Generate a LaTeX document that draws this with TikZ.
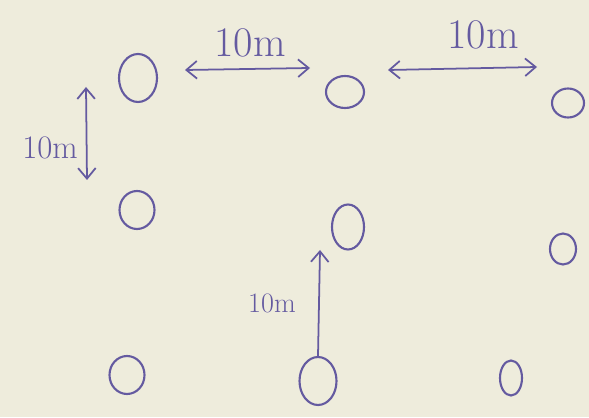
\documentclass[tikz,border=0pt]{standalone}
\usepackage{xcolor}
\usetikzlibrary{positioning, arrows.meta, shapes.geometric}
\definecolor{ink}{RGB}{100,90,160}
\definecolor{paper}{RGB}{238,236,220}
\tikzset{
  post/.style 2 args={draw=ink, ellipse, line width=1.8pt, inner sep=0pt,
                      minimum width=#1, minimum height=#2},
  span/.style ={draw=ink, line width=1.5pt, line cap=round},
  tag/.style  ={text=ink, inner sep=0pt, font=\fontsize{#1}{#1}\selectfont},
  tag/.default=36
}

\begin{document}
\begin{tikzpicture}[x=0.03cm, y=0.03cm,
  >={Straight Barb[length=9pt, width=15pt, line width=1.5pt]}]
  \fill[paper] (0,0) rectangle (589,417);
  \useasboundingbox (0,0) rectangle (589,417);

  % grid of posts
  \node[post={1.14cm}{1.44cm}] (a1) at (138,339) {};
  \node[post={1.14cm}{0.96cm}] (a2) at (345,325) {};
  \node[post={0.96cm}{0.87cm}] (a3) at (568,314) {};
  \node[post={1.05cm}{1.14cm}] (b1) at (137,207) {};
  \node[post={0.96cm}{1.35cm}] (b2) at (348,190) {};
  \node[post={0.78cm}{0.93cm}] (b3) at (563,168) {};
  \node[post={1.05cm}{1.14cm}] (c1) at (127,42)  {};
  \node[post={1.11cm}{1.44cm}] (c2) at (318,36)  {};
  \node[post={0.66cm}{1.05cm}] (c3) at (511,39)  {};

  % spacing marks
  \coordinate (h1a) at (185,347);
  \coordinate (h1b) at (310,349);
  \coordinate (h2a) at (388,347);
  \coordinate (h2b) at (537,350);
  \coordinate (v1a) at (86,330);
  \coordinate (v1b) at (87,237);
  \coordinate (v2b) at (320,167);

  \draw[span, <->] (h1a) -- (h1b);
  \draw[span, <->] (h2a) -- (h2b);
  \draw[span, <->] (v1a) -- (v1b);
  \draw[span, ->]  (c2.north) -- (v2b);

  \node[tag]      (l1) at (250,374) {10m};
  \node[tag]      (l2) at (483,382) {10m};
  \node[tag=28]   (l3) at (50,269)  {10m};
  \node[tag=24]   (l4) at (272,114) {10m};
\end{tikzpicture}
\end{document}
